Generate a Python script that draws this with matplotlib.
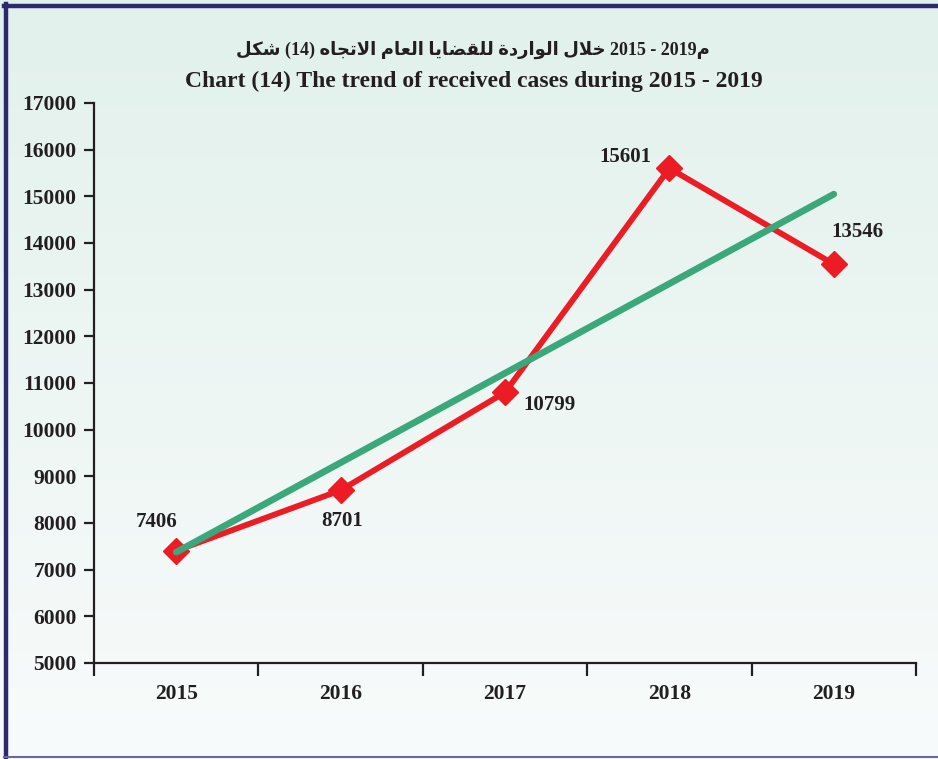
import numpy as np
import matplotlib
matplotlib.use('Agg')
import matplotlib.pyplot as plt
from matplotlib.lines import Line2D

years = ['2015', '2016', '2017', '2018', '2019']
cases = [7406, 8701, 10799, 15601, 13546]
y_ticks = list(range(5000, 17001, 1000))
title_ar = 'شكل (14) الاتجاه العام للقضايا الواردة خلال 2015 - 2019م'
title_en = 'Chart (14) The trend of received cases during 2015 - 2019'

# label offsets (points) for each data label
label_offsets = [(-14, 21), (1, -22), (32, -9), (-32, 8), (17, 23)]

# matplotlib does no arabic shaping, so map letters to presentation forms
# isolated, final, initial, medial
FORMS = {
    'ا': (0xFE8D, 0xFE8E, None, None),
    'ت': (0xFE95, 0xFE96, 0xFE97, 0xFE98),
    'ج': (0xFE9D, 0xFE9E, 0xFE9F, 0xFEA0),
    'خ': (0xFEA5, 0xFEA6, 0xFEA7, 0xFEA8),
    'د': (0xFEA9, 0xFEAA, None, None),
    'ر': (0xFEAD, 0xFEAE, None, None),
    'و': (0xFEED, 0xFEEE, None, None),
    'ش': (0xFEB5, 0xFEB6, 0xFEB7, 0xFEB8),
    'ض': (0xFEBD, 0xFEBE, 0xFEBF, 0xFEC0),
    'ع': (0xFEC9, 0xFECA, 0xFECB, 0xFECC),
    'ق': (0xFED5, 0xFED6, 0xFED7, 0xFED8),
    'ك': (0xFED9, 0xFEDA, 0xFEDB, 0xFEDC),
    'ل': (0xFEDD, 0xFEDE, 0xFEDF, 0xFEE0),
    'م': (0xFEE1, 0xFEE2, 0xFEE3, 0xFEE4),
    'ه': (0xFEE9, 0xFEEA, 0xFEEB, 0xFEEC),
    'ي': (0xFEF1, 0xFEF2, 0xFEF3, 0xFEF4),
    'ة': (0xFE93, 0xFE94, None, None),
    'LA': (0xFEFB, 0xFEFC, None, None),
}


def joins_next(c):
    return c in FORMS and FORMS[c][2] is not None


def shape_word(word):
    chars = []
    i = 0
    while i < len(word):
        if word[i] == 'ل' and i + 1 < len(word) and word[i + 1] == 'ا':
            chars.append('LA')
            i += 2
        else:
            chars.append(word[i])
            i += 1
    runs = []  # (is_arabic, [glyphs])
    for k, c in enumerate(chars):
        if c in FORMS:
            prev = k > 0 and joins_next(chars[k - 1])
            nxt = joins_next(c) and k + 1 < len(chars) and chars[k + 1] in FORMS
            if prev and nxt:
                g = FORMS[c][3]
            elif prev:
                g = FORMS[c][1]
            elif nxt:
                g = FORMS[c][2]
            else:
                g = FORMS[c][0]
            glyph, ar = chr(g), True
        else:
            glyph, ar = c, False
        if runs and runs[-1][0] == ar:
            runs[-1][1].append(glyph)
        else:
            runs.append((ar, [glyph]))
    return ''.join(''.join(r[::-1]) if ar else ''.join(r) for ar, r in runs)


def shape_line(text):
    return ' '.join(shape_word(w) for w in text.split(' '))


W, H = 938, 759
fig = plt.figure(figsize=(W / 100, H / 100), dpi=100)

# background gradient
bg = fig.add_axes([0, 0, 1, 1], zorder=-5)
top = np.array([0.886, 0.945, 0.925])
bot = np.array([0.973, 0.984, 0.984])
t = np.linspace(0, 1, 256)[:, None, None]
grad = top * (1 - t) + bot * t
bg.imshow(grad, aspect='auto', extent=[0, 1, 0, 1])
bg.set_axis_off()

# navy frame (left, top, bottom)
navy = '#2c2a6c'
fig.add_artist(Line2D([6 / W, 6 / W], [1 - 4 / H, 1 - 757 / H], color=navy, lw=3.2,
                      transform=fig.transFigure))
fig.add_artist(Line2D([4 / W, 1], [1 - 6 / H, 1 - 6 / H], color=navy, lw=3.2,
                      transform=fig.transFigure))
fig.add_artist(Line2D([4 / W, 1], [1 - 756.5 / H, 1 - 756.5 / H], color='#6a68a0', lw=1.5,
                      transform=fig.transFigure))

ax = fig.add_axes([94 / W, 1 - 663 / H, (916 - 94) / W, (663 - 103) / H])
ax.patch.set_alpha(0)

x = np.arange(len(years))
ax.plot(x, cases, color='#ec1c24', lw=4.2, marker='D', markersize=13,
        solid_capstyle='butt', zorder=3)
k, b = np.polyfit(x, cases, 1)
ax.plot(x, k * x + b, color='#3aa87b', lw=4.8, solid_capstyle='round', zorder=4)

for xi, v, (dx, dy) in zip(x, cases, label_offsets):
    ax.annotate(str(v), (xi, v), xytext=(dx, dy), textcoords='offset points',
                ha='center', va='center', fontsize=15, fontweight='bold',
                family='Liberation Serif', color='#231f20', zorder=5)

ax.set_xlim(-0.5, len(years) - 0.5)
ax.set_ylim(5000, 17000)
ax.set_yticks(y_ticks)
ax.set_yticklabels([str(v) for v in y_ticks])
ax.set_xticks(np.arange(len(years) + 1) - 0.5)
ax.set_xticklabels([])
ax.set_xticks(x, minor=True)
ax.set_xticklabels(years, minor=True)

for s in ['top', 'right']:
    ax.spines[s].set_visible(False)
for s in ['left', 'bottom']:
    ax.spines[s].set_linewidth(1.6)
    ax.spines[s].set_color('#231f20')

ax.tick_params(axis='y', length=7.5, width=1.6, pad=5, color='#231f20')
ax.tick_params(axis='x', which='major', length=9, width=1.6, color='#231f20')
ax.tick_params(axis='x', which='minor', length=0, pad=15)
for lab in ax.get_yticklabels() + ax.get_xticklabels(minor=True):
    lab.set_fontfamily('Liberation Serif')
    lab.set_fontweight('bold')
    lab.set_fontsize(15.5)
    lab.set_color('#231f20')

fig.text(473 / W, 1 - 50 / H, shape_line(title_ar), ha='center', va='center',
         fontsize=13, fontweight='bold', family=['Liberation Serif', 'DejaVu Sans'],
         color='#231f20')
fig.text(474 / W, 1 - 81 / H, title_en, ha='center', va='center', fontsize=17,
         fontweight='bold', family='Liberation Serif', color='#231f20')

fig.savefig('out.png', dpi=100)
